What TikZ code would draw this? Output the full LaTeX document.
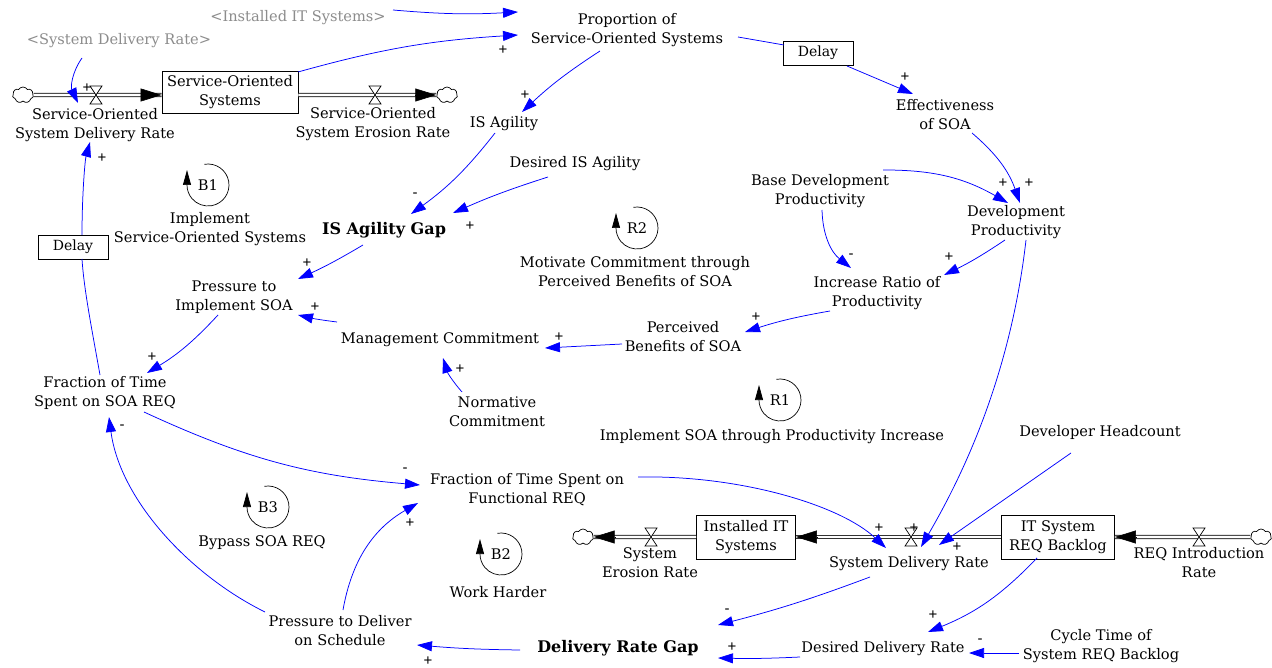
\documentclass[tikz,border=0pt]{standalone}
\usepackage{fontspec}
\setmainfont{DejaVu Serif}
\newfontfamily\signfont{Liberation Sans}
\usetikzlibrary{arrows.meta,shapes.symbols}
\definecolor{linkblue}{RGB}{0,0,255}
\definecolor{shadowgray}{RGB}{140,140,140}
\tikzset{
  every node/.style={font=\fontsize{14.6}{19}\selectfont, align=center, inner sep=1pt},
  shadowvar/.style={text=shadowgray},
  boldvar/.style={font=\fontsize{16}{19}\selectfont\bfseries},
  sgn/.style={font=\signfont\fontsize{15}{15}\selectfont, inner sep=0pt},
  stock/.style={draw, line width=0.8pt, minimum height=42pt},
  delaybox/.style={draw, line width=0.8pt, font=\fontsize{14}{16}\selectfont, minimum width=70pt, minimum height=24pt, fill=white},
  link/.style={draw=linkblue, line width=0.75pt, -{Triangle[length=15pt,width=10pt]}},
  plainlink/.style={draw=linkblue, line width=0.75pt},
  pipe/.style={draw=black!80, double=white, line width=0.9pt, double distance=2.4pt},
  flowtip/.style={draw=black, line width=0.6pt, -{Triangle[length=21pt,width=13pt]}},
  cloudnode/.style={cloud, cloud puffs=7, cloud puff arc=120, draw, fill=white, minimum width=21pt, minimum height=16pt, inner sep=0pt, line width=0.7pt},
  looparc/.style={draw=black, line width=0.7pt, -{Triangle[length=15pt,width=8pt]}},
  valve/.pic={\draw[fill=white, line width=0.7pt] (-6pt,-9pt) -- (6pt,-9pt) -- (-6pt,9pt) -- (6pt,9pt) -- cycle;}
}
\begin{document}
\begin{tikzpicture}[x=1pt,y=-1pt]
\useasboundingbox[fill=white] (0,0) rectangle (1272,668);

% ---------- stocks, clouds, pipes ----------
\node[stock, minimum width=136pt] (sos) at (230,92) {Service-Oriented\\Systems};
\node[cloudnode] (cl1) at (23,95) {};
\node[cloudnode] (cl2) at (447,95) {};
\node[stock, minimum width=99pt, minimum height=44pt] (iits) at (746,537) {Installed IT\\Systems};
\node[stock, minimum width=113pt, minimum height=44pt] (itb) at (1058,537) {IT System\\REQ Backlog};
\node[cloudnode] (cl3) at (583,537) {};
\node[cloudnode] (cl4) at (1261,537) {};

\draw[pipe] (cl1.east) -- ([yshift=-3pt]sos.west);
\draw[flowtip] ([shift={(-21,3)}]sos.west) -- ([yshift=-3pt]sos.west);
\draw[pipe] ([yshift=-3pt]sos.east) -- (cl2.west);
\draw[flowtip] ([xshift=-21pt]cl2.west) -- (cl2.west);
\draw[pipe] (itb.west) -- (iits.east);
\draw[flowtip] ([xshift=21pt]iits.east) -- (iits.east);
\draw[pipe] (iits.west) -- (cl3.east);
\draw[flowtip] ([xshift=21pt]cl3.east) -- (cl3.east);
\draw[pipe] (cl4.west) -- (itb.east);
\draw[flowtip] ([xshift=21pt]itb.east) -- (itb.east);

\coordinate (v1) at (96,95);
\coordinate (v2) at (375,95);
\coordinate (v3) at (911,537);
\coordinate (v4) at (651,537);
\coordinate (v5) at (1199,537);
\pic at (v1) {valve};
\pic at (v2) {valve};
\pic at (v3) {valve};
\pic at (v4) {valve};
\pic at (v5) {valve};

% ---------- variables ----------
\node[shadowvar] (iit) at (298,18) {<Installed IT Systems>};
\node[shadowvar] (sdrg) at (119,41) {<System Delivery Rate>};
\node (sodr) at (95,125) {Service-Oriented\\System Delivery Rate};
\node (soer) at (373,124) {Service-Oriented\\System Erosion Rate};
\node (prop) at (627,30) {Proportion of\\Service-Oriented Systems};
\node[delaybox] (delay1) at (818,53) {Delay};
\node (eff) at (945,115) {Effectiveness\\of SOA};
\node (isag) at (504,124) {IS Agility};
\node (disag) at (575,164) {Desired IS Agility};
\node[boldvar] (gap) at (384,230) {IS Agility Gap};
\node (pis) at (234,297) {Pressure to\\Implement SOA};
\node (mc) at (440,340) {Management Commitment};
\node (pb) at (683,337) {Perceived\\Benefits of SOA};
\node (nc) at (497,412) {Normative\\Commitment};
\node (fsoa) at (105,393) {Fraction of Time\\Spent on SOA REQ};
\node[delaybox] (delay2) at (73,247) {Delay};
\node (bdp) at (820,191) {Base Development\\Productivity};
\node (dp) at (1016,222) {Development\\Productivity};
\node (irp) at (877,293) {Increase Ratio of\\Productivity};
\node (dh) at (1100,432) {Developer Headcount};
\node (ffr) at (527,490) {Fraction of Time Spent on\\Functional REQ};
\node (pds) at (340,631) {Pressure to Deliver\\on Schedule};
\node[boldvar] (drg) at (618,648) {Delivery Rate Gap};
\node (ddr) at (883,649) {Desired Delivery Rate};
\node (ct) at (1101,646) {Cycle Time of\\System REQ Backlog};
\node (sdr) at (909,564) {System Delivery Rate};
\node (ser) at (650,563) {System\\Erosion Rate};
\node (rir) at (1199,563) {REQ Introduction\\Rate};

% ---------- loops ----------
\node (b1) at (208,185) {B1};
\node (b1t) at (210,229) {Implement\\Service-Oriented Systems};
\node (r2) at (637,228) {R2};
\node (r2t) at (635,272) {Motivate Commitment through\\Perceived Benefits of SOA};
\node (r1) at (780,400) {R1};
\node (r1t) at (772,437) {Implement SOA through Productivity Increase};
\node (b3) at (268,507) {B3};
\node (b3t) at (262,543) {Bypass SOA REQ};
\node (b2) at (501,554) {B2};
\node (b2t) at (498,592) {Work Harder};
\foreach \l in {b1,r2,r1,b3,b2}{
  \draw[looparc] (\l.center) ++(100:21pt) arc[start angle=100, end angle=-180, radius=21pt] -- ++(0pt,15pt);
}

% ---------- connectors ----------
\draw[link] ([shift={(95,-8)}]iit.center) to[bend right=4] ([shift={(-109,-18)}]prop.center);
\draw[link] ([shift={(68,-20)}]sos.center) to[bend left=6] ([shift={(-109,5)}]prop.center);
\draw[link] ([shift={(-37,17)}]sdrg.center) to[bend right=30] ([shift={(-17,-22)}]sodr.center);
\draw[plainlink] ([shift={(111,7)}]prop.center) -- ([shift={(-34,-8)}]delay1.center);
\draw[link] ([shift={(29,13)}]delay1.center) -- ([shift={(-32,-21)}]eff.center);
\draw[link] ([shift={(-27,21)}]prop.center) to[bend right=5] ([shift={(18,-12)}]isag.center);
\draw[link] ([shift={(-9,9)}]isag.center) to[bend left=8] ([shift={(27,-16)}]gap.center);
\draw[link] ([shift={(-27,13)}]disag.center) to[bend right=3] ([shift={(69,-17)}]gap.center);
\draw[link] ([shift={(-21,15)}]gap.center) to[bend left=3] ([shift={(64,-18)}]pis.center);
\draw[link] ([shift={(-103,-18)}]mc.center) to[bend left=3] ([shift={(64,18)}]pis.center);
\draw[link] ([shift={(-61,7)}]pb.center) -- ([shift={(105,8)}]mc.center);
\draw[link] ([shift={(-35,-20)}]nc.center) to[bend left=12] ([shift={(3,18)}]mc.center);
\draw[link] ([shift={(-47,18)}]irp.center) to[bend right=4] ([shift={(62,-5)}]pb.center);
\draw[link] ([shift={(2,19)}]bdp.center) to[bend right=25] ([shift={(-26,-25)}]irp.center);
\draw[link] ([shift={(63,-21)}]bdp.center) to[bend left=15] ([shift={(-8,-19)}]dp.center);
\draw[link] ([shift={(27,18)}]eff.center) to[bend left=15] ([shift={(4,-19)}]dp.center);
\draw[link] ([shift={(-11,18)}]dp.center) to[bend left=4] ([shift={(67,-18)}]irp.center);
\draw[link] ([shift={(10,18)}]dp.center) .. controls (1010,380) and (960,480) .. ([shift={(12,-17)}]sdr.center);
\draw[link] ([shift={(-29,21)}]dh.center) -- ([shift={(30,-19)}]sdr.center);
\draw[link] ([shift={(111,-13)}]ffr.center) .. controls (740,475) and (840,505) .. ([shift={(-23,-16)}]sdr.center);
\draw[link] ([shift={(-39,13)}]sdr.center) to[bend left=3] ([shift={(100,-23)}]drg.center);
\draw[link] ([shift={(-21,21)}]itb.center) to[bend left=12] ([shift={(45,-17)}]ddr.center);
\draw[link] ([shift={(-82,7)}]ct.center) -- ([shift={(86,4)}]ddr.center);
\draw[link] ([shift={(-83,8)}]ddr.center) to[bend left=2] ([shift={(100,10)}]drg.center);
\draw[link] ([shift={(-98,2)}]drg.center) to[bend left=2] ([shift={(77,14)}]pds.center);
\draw[link] ([shift={(3,-21)}]pds.center) to[bend left=25] ([shift={(-109,13)}]ffr.center);
\draw[link] ([shift={(-75,-19)}]pds.center) .. controls (190,575) and (120,500) .. ([shift={(4,24)}]fsoa.center);
\draw[link] ([shift={(39,19)}]fsoa.center) to[bend right=10] ([shift={(-107,-5)}]ffr.center);
\draw[link] ([shift={(-16,18)}]pis.center) to[bend left=8] ([shift={(42,-20)}]fsoa.center);
\draw[plainlink] ([shift={(-5,-18)}]fsoa.center) .. controls (92,330) and (84,290) .. ([shift={(9,12)}]delay2.center);
\draw[link] ([shift={(9,-12)}]delay2.center) .. controls (82,195) and (85,160) .. ([shift={(-5,17)}]sodr.center);

% ---------- polarities ----------
\node[sgn] (s1) at (503,50) {+};
\node[sgn] (s2) at (87,88) {+};
\node[sgn] (s3) at (102,158) {+};
\node[sgn] (s4) at (905,77) {+};
\node[sgn] (s5) at (525,95) {+};
\node[sgn] (s6) at (415,195) {-};
\node[sgn] (s7) at (470,226) {+};
\node[sgn] (s8) at (307,263) {+};
\node[sgn] (s9) at (315,307) {+};
\node[sgn] (s10) at (559,337) {+};
\node[sgn] (s11) at (460,369) {+};
\node[sgn] (s12) at (756,317) {+};
\node[sgn] (s13) at (851,256) {-};
\node[sgn] (s14) at (1003,183) {+};
\node[sgn] (s15) at (1029,183) {+};
\node[sgn] (s16) at (949,257) {+};
\node[sgn] (s17) at (152,357) {+};
\node[sgn] (s18) at (122,427) {-};
\node[sgn] (s19) at (405,470) {-};
\node[sgn] (s20) at (410,523) {+};
\node[sgn] (s21) at (428,661) {+};
\node[sgn] (s22) at (879,528) {+};
\node[sgn] (s23) at (914,528) {+};
\node[sgn] (s24) at (957,547) {+};
\node[sgn] (s25) at (727,611) {-};
\node[sgn] (s26) at (933,615) {+};
\node[sgn] (s27) at (980,641) {-};
\node[sgn] (s28) at (732,647) {+};
\end{tikzpicture}
\end{document}
